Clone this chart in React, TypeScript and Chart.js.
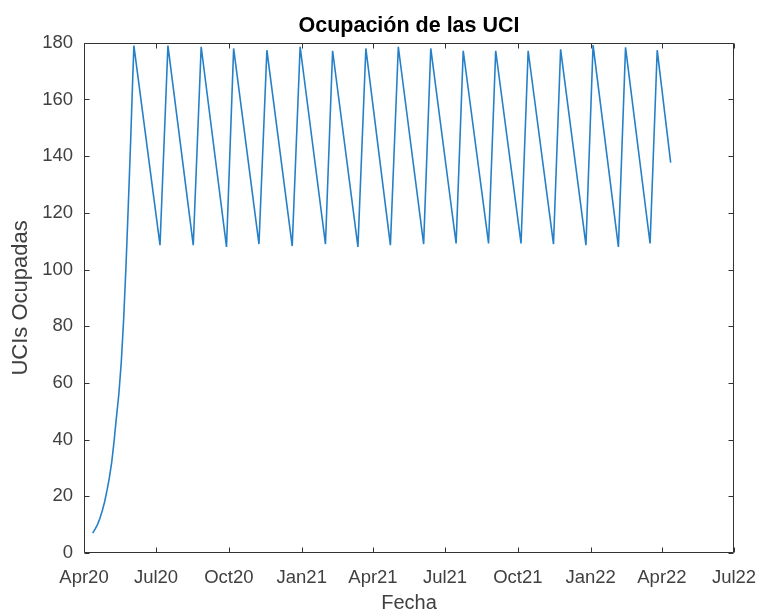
import React, { useEffect, useRef } from "react";
import { Chart, registerables } from "chart.js";

Chart.register(...registerables);

// ---- data ----
const ORIGIN = "2020-04-01";

const dates = [
  "2020-04-12", "2020-04-15", "2020-04-18", "2020-04-21", "2020-04-24",
  "2020-04-27", "2020-04-30", "2020-05-03", "2020-05-06", "2020-05-09",
  "2020-05-12", "2020-05-15", "2020-05-18", "2020-05-21", "2020-05-24",
  "2020-05-27", "2020-05-30", "2020-06-01", "2020-06-03",
  "2020-07-06", "2020-07-16", "2020-08-17", "2020-08-27", "2020-09-28",
  "2020-10-07", "2020-11-08", "2020-11-18", "2020-12-20", "2020-12-30",
  "2021-01-31", "2021-02-09", "2021-03-13", "2021-03-23", "2021-04-23",
  "2021-05-03", "2021-06-04", "2021-06-13", "2021-07-15", "2021-07-24",
  "2021-08-25", "2021-09-03", "2021-10-05", "2021-10-14", "2021-11-15",
  "2021-11-24", "2021-12-26", "2022-01-04", "2022-02-05", "2022-02-14",
  "2022-03-17", "2022-03-26", "2022-04-12",
];

const icuOccupied = [
  7, 8.4, 10, 12.2, 14.8,
  18, 22, 26.5, 32, 39.5,
  48, 56, 67, 82, 101,
  123, 146, 163, 179,
  108.6, 179, 108.6, 178.6, 108,
  178, 109, 177.4, 108.3, 178.6,
  109, 177.2, 108, 178, 108.6,
  178.6, 109, 178, 109.2, 177.2,
  109.2, 177.2, 109.2, 177.2, 109,
  177.7, 108.6, 179.2, 108, 178.4,
  109.2, 177.4, 137.7,
];

const xTickDates = [
  "2020-04-01", "2020-07-01", "2020-10-01", "2021-01-01", "2021-04-01",
  "2021-07-01", "2021-10-01", "2022-01-01", "2022-04-01", "2022-07-01",
];
const xTickLabels = [
  "Apr20", "Jul20", "Oct20", "Jan21", "Apr21",
  "Jul21", "Oct21", "Jan22", "Apr22", "Jul22",
];
const yTickValues = [0, 20, 40, 60, 80, 100, 120, 140, 160, 180];

const TITLE = "Ocupación de las UCI";
const X_TITLE = "Fecha";
const Y_TITLE = "UCIs Ocupadas";

// ---- helpers ----
const DAY = 86400000;
const toDay = (d: string) => (Date.parse(d) - Date.parse(ORIGIN)) / DAY;

const FONT = "'Liberation Sans', Arial, Helvetica, sans-serif";
const AXIS_COLOR = "#333333";
const TEXT_COLOR = "#404040";
const LINE_COLOR = "#2680C8";

const boxPlugin = {
  id: "matlabBox",
  afterDraw(chart: any) {
    const { ctx, chartArea: a, scales } = chart;
    const x = scales.x;
    const y = scales.y;
    const L = Math.round(a.left) + 0.5;
    const R = Math.round(a.right) - 0.5;
    const T = Math.round(a.top) + 0.5;
    const B = Math.round(a.bottom) - 0.5;
    const len = 5;
    ctx.save();
    ctx.strokeStyle = AXIS_COLOR;
    ctx.lineWidth = 1;
    ctx.beginPath();
    ctx.moveTo(L, T);
    ctx.lineTo(R, T);
    ctx.lineTo(R, B);
    ctx.lineTo(L, B);
    ctx.closePath();
    xTickDates.forEach((d) => {
      const px = Math.round(x.getPixelForValue(toDay(d))) + 0.5;
      ctx.moveTo(px, B);
      ctx.lineTo(px, B - len);
      ctx.moveTo(px, T);
      ctx.lineTo(px, T + len);
    });
    yTickValues.forEach((v) => {
      const py = Math.round(y.getPixelForValue(v)) + 0.5;
      ctx.moveTo(L, py);
      ctx.lineTo(L + len, py);
      ctx.moveTo(R, py);
      ctx.lineTo(R - len, py);
    });
    ctx.stroke();
    ctx.restore();
  },
};

export default function App() {
  const ref = useRef<HTMLCanvasElement | null>(null);

  useEffect(() => {
    if (!ref.current) return;
    const points = dates.map((d, i) => ({ x: toDay(d), y: icuOccupied[i] }));
    const xTickVals = xTickDates.map(toDay);

    const chart = new Chart(ref.current, {
      type: "line",
      data: {
        datasets: [
          {
            data: points,
            borderColor: LINE_COLOR,
            borderWidth: 1.6,
            pointRadius: 0,
            tension: 0,
            fill: false,
          },
        ],
      },
      plugins: [boxPlugin],
      options: {
        animation: false,
        responsive: false,
        maintainAspectRatio: false,
        parsing: false,
        normalized: true,
        layout: { padding: { left: 0, right: 25, top: 0, bottom: 0 } },
        plugins: {
          legend: { display: false },
          tooltip: { enabled: false },
          title: {
            display: true,
            text: TITLE,
            fullSize: false,
            color: "#000000",
            font: { family: FONT, size: 21.5, weight: "bold" },
            padding: { top: 13, bottom: 4 },
          },
        },
        scales: {
          x: {
            type: "linear",
            min: toDay(xTickDates[0]),
            max: toDay(xTickDates[xTickDates.length - 1]),
            afterBuildTicks: (scale: any) => {
              scale.ticks = xTickVals.map((v) => ({ value: v }));
            },
            afterFit: (scale: any) => {
              scale.height = 62;
              scale.paddingLeft = 0;
              scale.paddingRight = 0;
            },
            ticks: {
              autoSkip: false,
              maxRotation: 0,
              minRotation: 0,
              padding: 14,
              color: TEXT_COLOR,
              font: { family: FONT, size: 18.5 },
              callback: (v: any) => {
                const i = xTickVals.indexOf(v);
                return i >= 0 ? xTickLabels[i] : "";
              },
            },
            grid: { display: false, drawTicks: false },
            border: { display: false },
            title: {
              display: true,
              text: X_TITLE,
              color: TEXT_COLOR,
              font: { family: FONT, size: 20 },
              padding: { top: 0, bottom: 0 },
            },
          },
          y: {
            type: "linear",
            min: 0,
            max: 180,
            afterBuildTicks: (scale: any) => {
              scale.ticks = yTickValues.map((v) => ({ value: v }));
            },
            afterFit: (scale: any) => {
              scale.width = 84;
              scale.paddingTop = 0;
              scale.paddingBottom = 0;
            },
            ticks: {
              autoSkip: false,
              padding: 11,
              color: TEXT_COLOR,
              font: { family: FONT, size: 18.5 },
            },
            grid: { display: false, drawTicks: false },
            border: { display: false },
            title: {
              display: true,
              text: Y_TITLE,
              color: TEXT_COLOR,
              font: { family: FONT, size: 22 },
              padding: { top: 8, bottom: 0 },
            },
          },
        },
      },
    } as any);

    return () => chart.destroy();
  }, []);

  return (
    <div style={{ position: "absolute", left: 0, top: 0, width: 759, height: 615, background: "#ffffff" }}>
      <canvas ref={ref} width={759} height={615} style={{ display: "block" }} />
    </div>
  );
}
